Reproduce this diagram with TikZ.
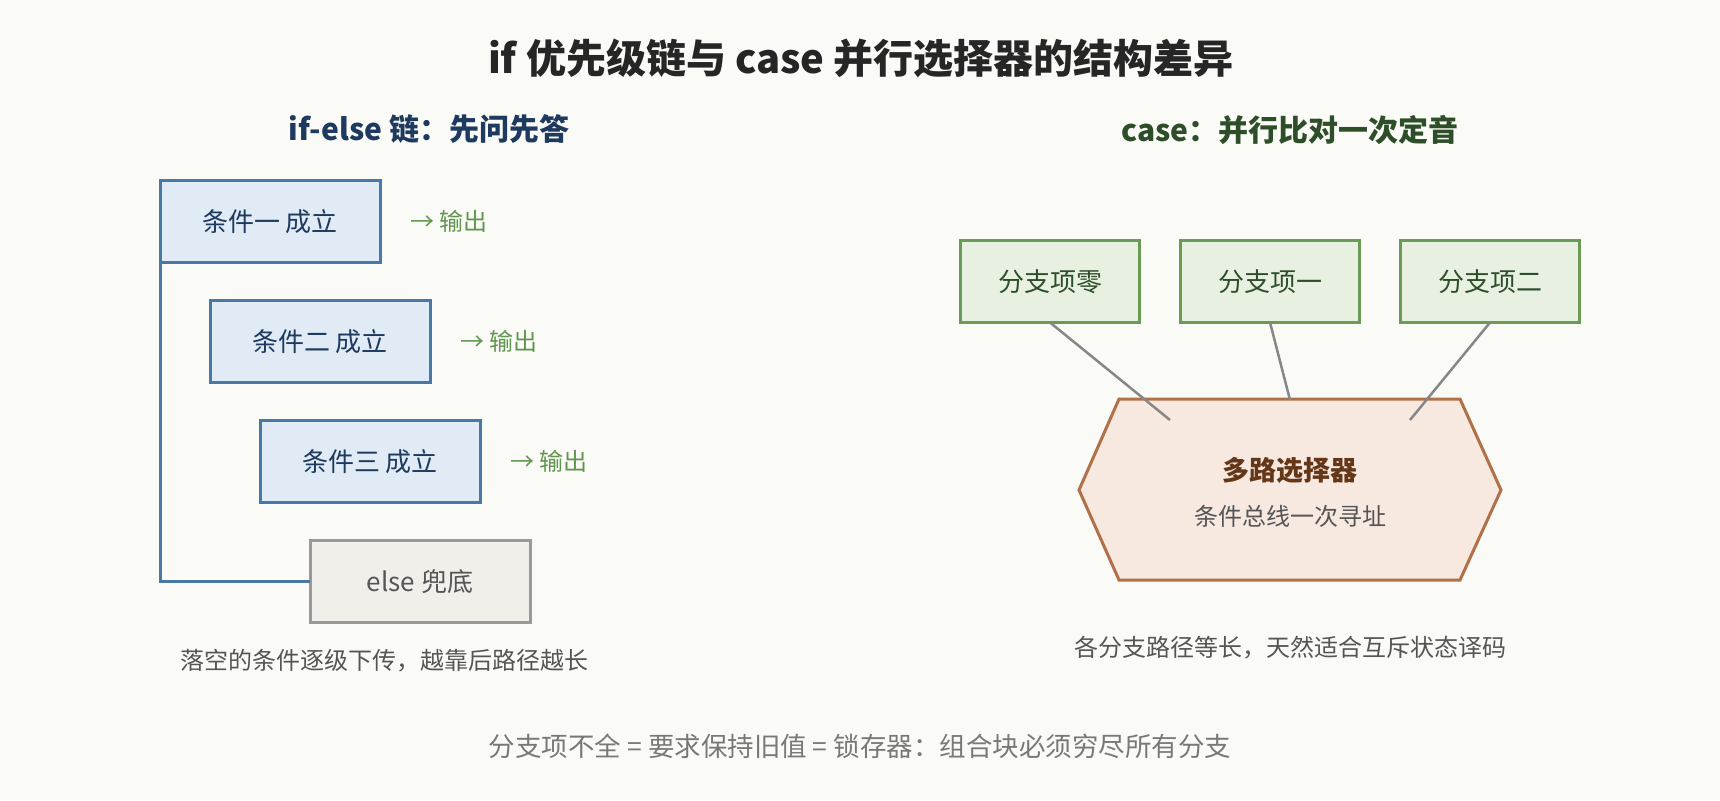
\documentclass[tikz,border=0pt]{standalone}
\usepackage{fontspec}
\setmainfont{Noto Sans CJK SC}
\usetikzlibrary{positioning,calc}

\definecolor{bgpaper}{RGB}{250,250,247}
\definecolor{condline}{RGB}{74,120,166}
\definecolor{condfill}{RGB}{225,235,245}
\definecolor{condtext}{RGB}{30,58,95}
\definecolor{outgreen}{RGB}{98,150,80}
\definecolor{brline}{RGB}{106,154,85}
\definecolor{brfill}{RGB}{231,240,225}
\definecolor{brtext}{RGB}{45,78,40}
\definecolor{muxline}{RGB}{176,112,72}
\definecolor{muxfill}{RGB}{247,232,224}
\definecolor{muxtext}{RGB}{100,55,25}
\definecolor{elseline}{RGB}{153,153,153}
\definecolor{elsefill}{RGB}{240,239,233}
\definecolor{darkgray}{RGB}{85,85,85}
\definecolor{lightgray}{RGB}{120,120,120}

\newcommand{\fsz}[1]{\fontsize{#1}{#1}\selectfont}

\begin{document}
\begin{tikzpicture}[x=1pt, y=-1pt, line join=miter]
  % styles
  \tikzset{
    cond/.style={draw=condline, fill=condfill, text=condtext, line width=3pt,
      minimum width=220pt, minimum height=82pt, inner sep=0pt, outer sep=0pt, font=\fsz{26}},
    elsebox/.style={cond, draw=elseline, fill=elsefill, text=darkgray},
    outlbl/.style={text=outgreen, font=\fsz{24}, inner sep=0pt},
    branch/.style={draw=brline, fill=brfill, text=brtext, line width=3pt,
      minimum width=179pt, minimum height=82pt, inner sep=0pt, outer sep=0pt, font=\fsz{26}},
    chain/.style={condline, line width=3pt},
    wire/.style={black!47, line width=2.5pt},
    muxshape/.style={draw=muxline, fill=muxfill, line width=3pt},
    caption/.style={text=darkgray, font=\fsz{24}},
    subhead/.style={font=\bfseries\fsz{30}}
  }

  % ----- canvas -----
  \fill[bgpaper] (0,0) rectangle (1720,800);
  \useasboundingbox (0,0) rectangle (1720,800);

  % ----- headings -----
  \node[text=black!85, font=\bfseries\fsz{40}] (title) at (861,58)
      {if 优先级链与 case 并行选择器的结构差异};
  \node[subhead, text=condtext] (headL) at (429,129) {if-else 链：先问先答};
  \node[subhead, text=brtext]   (headR) at (1290,130) {case：并行比对一次定音};

  % ----- if-else chain -----
  \foreach \i/\lab in {1/条件一, 2/条件二, 3/条件三} {
    \node[cond] (c\i) at ({220+50*\i},{101.5+120*\i}) {\lab\ 成立};
    \node[outlbl, right=30pt of c\i] (o\i) {→ 输出};
  }
  \node[elsebox] (els) at (420,581.5) {else 兜底};
  \draw[chain] (c1.south west) |- (els.west);

  \node[caption] (capL) at (384,661) {落空的条件逐级下传，越靠后路径越长};

  % ----- case selector -----
  \foreach \i/\x/\lab in {0/1050/分支项零, 1/1270/分支项一, 2/1490/分支项二}
    \node[branch] (b\i) at (\x,281.5) {\lab};

  \draw[muxshape] (1119,399) -- (1460,399) -- (1501,490) -- (1460,580)
      -- (1119,580) -- (1079,490) -- cycle;
  \node[text=muxtext, font=\bfseries\fsz{27}] (muxT) at (1290,470) {多路选择器};
  \node[text=darkgray, font=\fsz{24}] (muxS) at (1290,516) {条件总线一次寻址};

  % wires end inside the selector
  \coordinate (t0) at (1170,420);
  \coordinate (t1) at (1290,400);
  \coordinate (t2) at (1410,420);
  \foreach \i in {0,1,2} \draw[wire] (b\i.south) -- (t\i);

  \node[caption] (capR) at (1290,648) {各分支路径等长，天然适合互斥状态译码};

  % ----- footer -----
  \node[text=lightgray, font=\fsz{26.5}] (foot) at (860,746)
      {分支项不全\ =\ 要求保持旧值\ =\ 锁存器：组合块必须穷尽所有分支};
\end{tikzpicture}
\end{document}
